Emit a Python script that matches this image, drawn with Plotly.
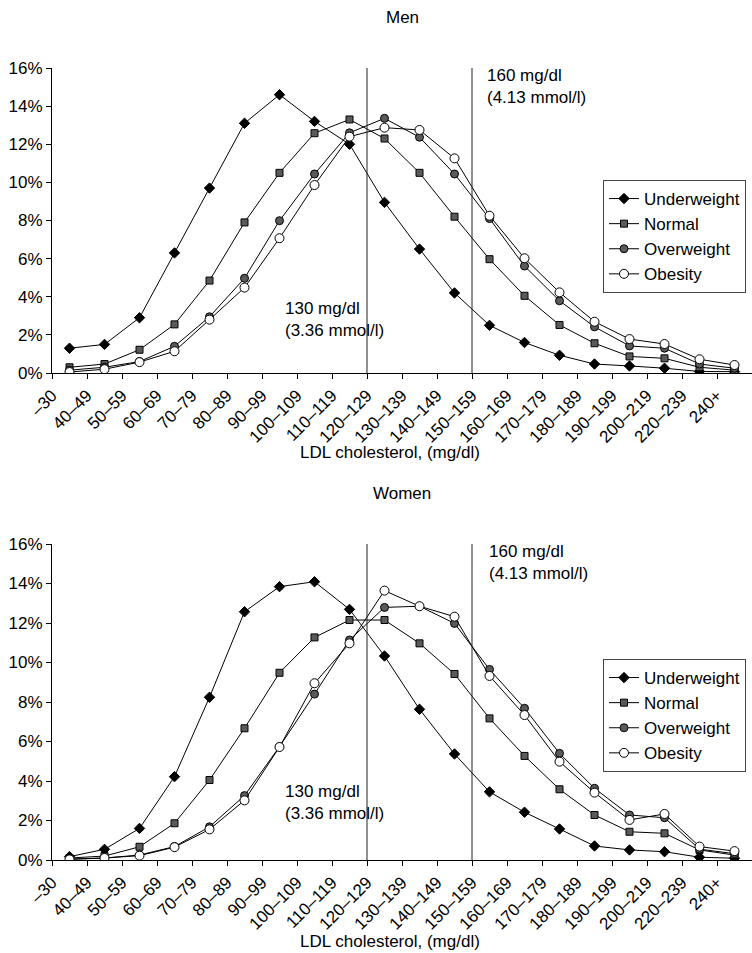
import plotly.graph_objects as go

# LDL cholesterol bands (x axis)
categories = ["–30", "40–49", "50–59", "60–69", "70–79", "80–89", "90–99",
              "100–109", "110–119", "120–129", "130–139", "140–149", "150–159",
              "160–169", "170–179", "180–189", "190–199", "200–219", "220–239", "240+"]

# Share of each BMI group in each LDL band, percent — men
men_underweight = [1.3, 1.5, 2.9, 6.3, 9.7, 13.1, 14.6, 13.2, 12.0, 8.95, 6.5, 4.2,
                   2.5, 1.6, 0.93, 0.47, 0.37, 0.25, 0.08, 0.07]
men_normal = [0.3, 0.47, 1.22, 2.55, 4.85, 7.9, 10.5, 12.58, 13.3, 12.3, 10.5, 8.2,
              5.97, 4.05, 2.52, 1.56, 0.87, 0.77, 0.3, 0.15]
men_overweight = [0.15, 0.3, 0.6, 1.4, 2.95, 4.97, 7.99, 10.44, 12.6, 13.36, 12.37, 10.44,
                  8.1, 5.61, 3.79, 2.42, 1.42, 1.3, 0.47, 0.25]
men_obesity = [0.05, 0.2, 0.57, 1.14, 2.8, 4.48, 7.07, 9.86, 12.4, 12.87, 12.75, 11.26,
               8.25, 6.02, 4.23, 2.69, 1.78, 1.52, 0.72, 0.42]

# Share of each BMI group in each LDL band, percent — women
women_underweight = [0.17, 0.54, 1.6, 4.22, 8.24, 12.57, 13.84, 14.09, 12.69, 10.33, 7.63, 5.37,
                     3.45, 2.42, 1.57, 0.71, 0.51, 0.42, 0.14, 0.09]
women_normal = [0.1, 0.2, 0.67, 1.86, 4.05, 6.67, 9.48, 11.27, 12.15, 12.15, 10.97, 9.42,
                7.17, 5.27, 3.58, 2.28, 1.43, 1.35, 0.51, 0.25]
women_overweight = [0.05, 0.1, 0.25, 0.68, 1.68, 3.26, 5.74, 8.4, 11.14, 12.79, 12.85, 11.98,
                    9.65, 7.68, 5.4, 3.63, 2.28, 2.14, 0.55, 0.32]
women_obesity = [0.03, 0.1, 0.22, 0.65, 1.55, 3.02, 5.72, 8.95, 10.97, 13.64, 12.85, 12.32,
                 9.32, 7.34, 4.98, 3.41, 2.03, 2.33, 0.68, 0.45]

group_names = ["Underweight", "Normal", "Overweight", "Obesity"]
men_series = [men_underweight, men_normal, men_overweight, men_obesity]
women_series = [women_underweight, women_normal, women_overweight, women_obesity]

marker_styles = {
    "Underweight": dict(symbol="diamond", size=8, color="black",
                        line=dict(color="black", width=1)),
    "Normal": dict(symbol="square", size=7, color="#5a5a5a",
                   line=dict(color="black", width=1)),
    "Overweight": dict(symbol="circle", size=8, color="#5a5a5a",
                       line=dict(color="black", width=1)),
    "Obesity": dict(symbol="circle", size=9, color="white",
                    line=dict(color="black", width=1)),
}

FONT = "Liberation Sans, Arial, Helvetica, sans-serif"
W, H = 752, 953
x_idx = list(range(len(categories)))

fig = go.Figure()
for name, m_vals, w_vals in zip(group_names, men_series, women_series):
    fig.add_trace(go.Scatter(
        x=x_idx, y=m_vals, mode="lines+markers", name=name,
        xaxis="x", yaxis="y", legend="legend",
        line=dict(color="black", width=1), marker=marker_styles[name]))
    fig.add_trace(go.Scatter(
        x=x_idx, y=w_vals, mode="lines+markers", name=name,
        xaxis="x2", yaxis="y2", legend="legend2",
        line=dict(color="black", width=1), marker=marker_styles[name]))


def py(px):
    """Pixel row from the top of the page -> paper y."""
    return 1 - px / H


def px_x(px):
    """Pixel column -> paper x (plot area spans 52..752)."""
    return (px - 52) / (W - 52)


x_common = dict(
    range=[-0.5, len(categories) - 0.5],
    tickmode="array",
    tickvals=[i - 0.5 for i in x_idx],
    ticktext=categories,
    tickangle=-45,
    ticks="outside", ticklen=5, tickcolor="black",
    showline=True, linecolor="black", linewidth=1,
    showgrid=False, zeroline=False, automargin=False,
    tickfont=dict(family=FONT, size=17, color="black"),
)
y_common = dict(
    range=[0, 16],
    tickmode="array",
    tickvals=list(range(0, 17, 2)),
    ticktext=[f"{v}%" for v in range(0, 17, 2)],
    ticks="outside", ticklen=5, tickcolor="black",
    showline=True, linecolor="black", linewidth=1,
    showgrid=False, zeroline=False, automargin=False,
    tickfont=dict(family=FONT, size=17, color="black"),
)

legend_common = dict(
    xanchor="left", yanchor="top",
    bgcolor="white", bordercolor="#444", borderwidth=1,
    font=dict(family=FONT, size=17, color="black"),
    itemwidth=30, tracegroupgap=0,
)

fig.update_layout(
    width=W, height=H,
    margin=dict(l=52, r=0, t=0, b=0, autoexpand=False),
    paper_bgcolor="white", plot_bgcolor="white",
    font=dict(family=FONT, size=17, color="black"),
    xaxis=dict(domain=[0, 1], anchor="y", **x_common),
    yaxis=dict(domain=[py(373), py(68)], anchor="x", **y_common),
    xaxis2=dict(domain=[0, 1], anchor="y2", **x_common),
    yaxis2=dict(domain=[py(860), py(544)], anchor="x2", **y_common),
    legend=dict(x=px_x(603), y=py(180), **legend_common),
    legend2=dict(x=px_x(603), y=py(659), **legend_common),
)

# Reference lines at 130 and 160 mg/dl
for xa, ya in (("x", "y"), ("x2", "y2")):
    for xv in (8.5, 11.5):
        fig.add_shape(type="line", xref=xa, yref=ya, x0=xv, x1=xv, y0=0, y1=16,
                      line=dict(color="#222", width=1))

annotations = [
    # panel titles
    dict(text="Men", xref="paper", yref="paper", x=0.5, y=py(17),
         xanchor="center", yanchor="middle", showarrow=False),
    dict(text="Women", xref="paper", yref="paper", x=0.5, y=py(493),
         xanchor="center", yanchor="middle", showarrow=False),
    # axis titles
    dict(text="LDL cholesterol, (mg/dl)", xref="paper", yref="paper",
         x=px_x(390), y=py(453), xanchor="center", yanchor="middle", showarrow=False),
    dict(text="LDL cholesterol, (mg/dl)", xref="paper", yref="paper",
         x=px_x(390), y=py(941), xanchor="center", yanchor="middle", showarrow=False),
    # threshold labels
    dict(text="130 mg/dl<br>(3.36 mmol/l)", xref="x", yref="y", x=6.09, y=2.8,
         xanchor="left", yanchor="middle", align="left", showarrow=False),
    dict(text="160 mg/dl<br>(4.13 mmol/l)", xref="x", yref="y", x=11.87, y=15.03,
         xanchor="left", yanchor="middle", align="left", showarrow=False),
    dict(text="130 mg/dl<br>(3.36 mmol/l)", xref="x2", yref="y2", x=6.09, y=2.91,
         xanchor="left", yanchor="middle", align="left", showarrow=False),
    dict(text="160 mg/dl<br>(4.13 mmol/l)", xref="x2", yref="y2", x=11.93, y=15.04,
         xanchor="left", yanchor="middle", align="left", showarrow=False),
]
for a in annotations:
    a["font"] = dict(family=FONT, size=17, color="black")
fig.update_layout(annotations=annotations)

fig.write_html("out.html")
